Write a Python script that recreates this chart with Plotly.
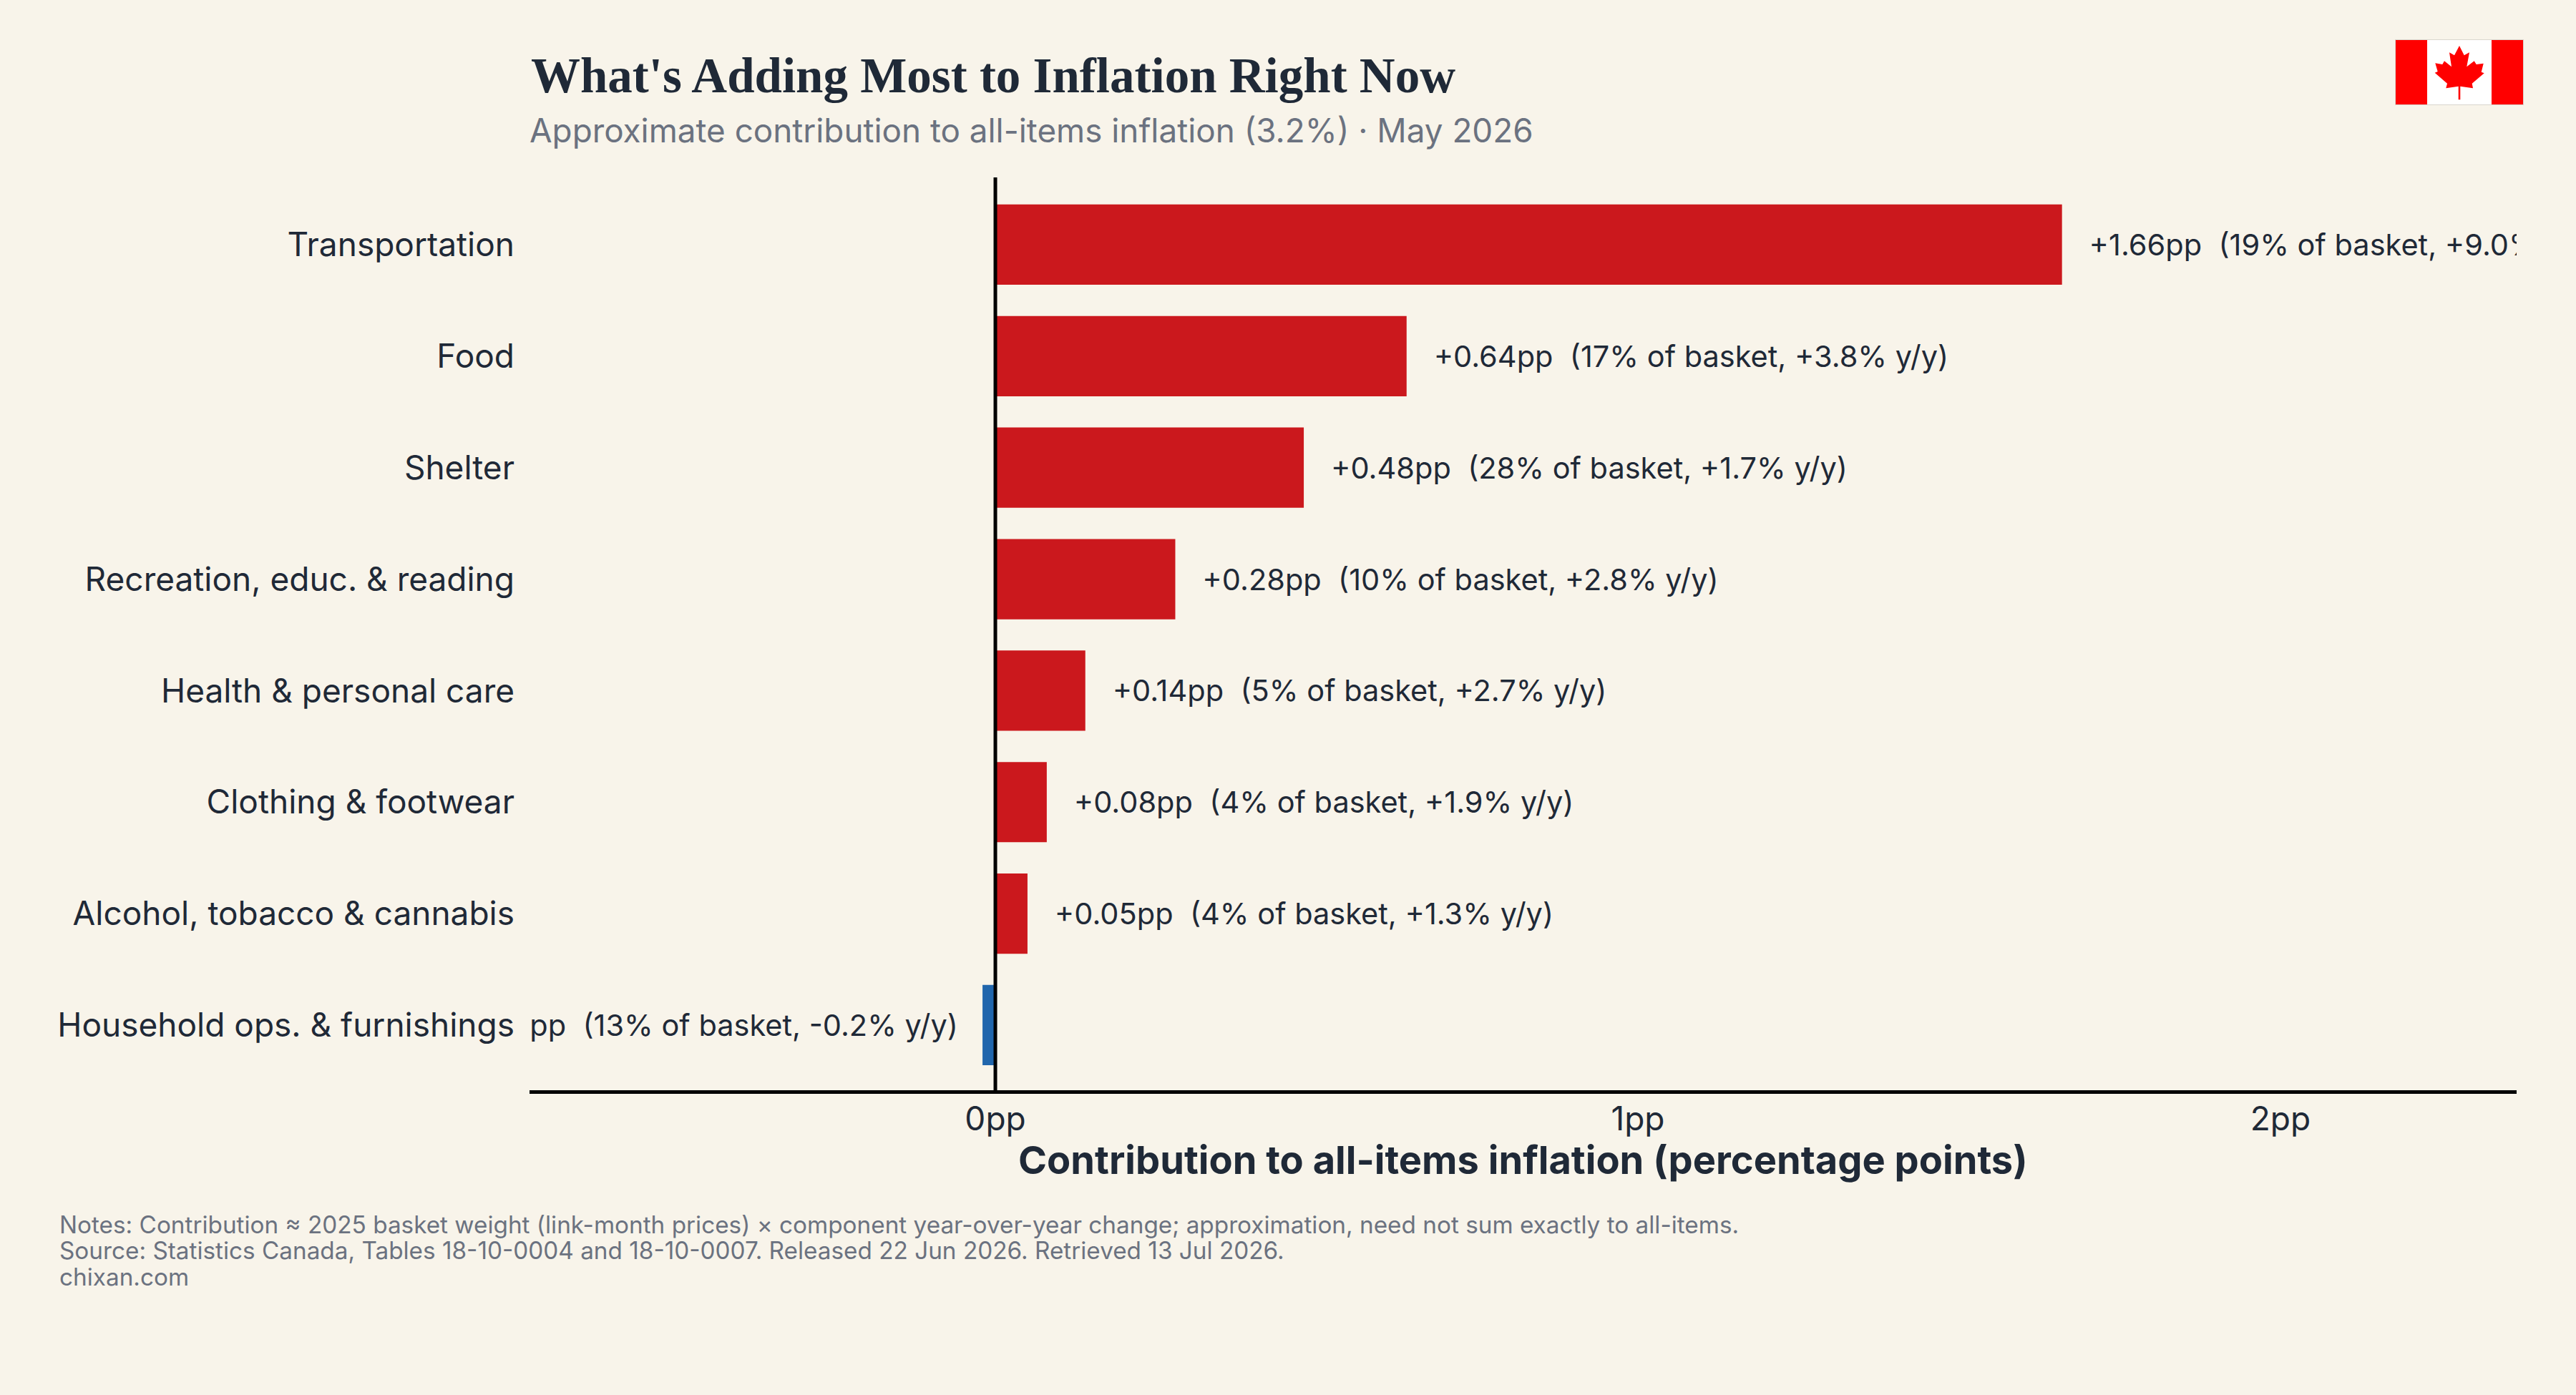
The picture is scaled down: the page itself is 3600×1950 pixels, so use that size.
import base64
import plotly.graph_objects as go

categories = [
    "Transportation", "Food", "Shelter", "Recreation, educ. & reading",
    "Health & personal care", "Clothing & footwear",
    "Alcohol, tobacco & cannabis", "Household ops. & furnishings",
]
contributions = [1.66, 0.64, 0.48, 0.28, 0.14, 0.08, 0.05, -0.02]
basket_shares = [19, 17, 28, 10, 5, 4, 4, 13]
yoy_changes = [9.0, 3.8, 1.7, 2.8, 2.7, 1.9, 1.3, -0.2]
tick_values = [0, 1, 2]
tick_labels = ["0pp", "1pp", "2pp"]
axis_title = "Contribution to all-items inflation (percentage points)"
footnotes = [
    "Notes: Contribution ≈ 2025 basket weight (link-month prices) × component year-over-year change; approximation, need not sum exactly to all-items.",
    "Source: Statistics Canada, Tables 18-10-0004 and 18-10-0007. Released 22 Jun 2026. Retrieved 13 Jul 2026.",
    "chixan.com",
]

W, H = 3600, 1950
L, R, T, B = 740, 3517, 248, 1524
BG, INK, MUTED = "#F8F4EA", "#1F2937", "#6B7280"
RED, BLUE = "#CB181D", "#2166AC"
PAD = "\u2002\u2005"


def px(x):
    return (x - L) / (R - L)


def py(y):
    return (B - y) / (B - T)


def label(v, share, yoy):
    body = f"{v:+.2f}pp\u00a0\u00a0({share}% of basket, {yoy:+.1f}% y/y)"
    return PAD + "\u200a" + body if v >= 0 else body + PAD


# Small flag badge for the top-right corner, drawn on a 180x92 grid.
LEAF_POINTS = (
    "90,9 96.7,22.3 104,18.3 100.3,38.3 110.7,30.3 113.7,35 123.7,33.7 120.7,45.7 124.7,47.3 "
    "107.7,61.7 109,68.3 91.3,65.7 91.3,84.3 88.7,84.3 88.7,65.7 71.3,68.3 73,61.7 55.7,46.7 "
    "59.7,45 56.3,33.3 66.3,35 69,30.3 79,38.3 76,18.3 83,22.3"
)
FLAG_SVG = (
    '<svg xmlns="http://www.w3.org/2000/svg" viewBox="0 0 180 92" width="180" height="92" preserveAspectRatio="none">'
    '<rect width="180" height="92" fill="#D9D6CE"/>'
    '<rect x="1" y="1" width="178" height="90" fill="#f00"/>'
    '<rect x="45" y="1" width="90" height="90" fill="#fff"/>'
    f'<polygon points="{LEAF_POINTS}" fill="#f00"/>'
    "</svg>"
)
flag_uri = "data:image/svg+xml;base64," + base64.b64encode(FLAG_SVG.encode()).decode()

fig = go.Figure(
    go.Bar(
        x=contributions,
        y=categories,
        orientation="h",
        width=0.72,
        marker=dict(color=[RED if v >= 0 else BLUE for v in contributions], line=dict(width=0)),
        text=[label(v, s, y) for v, s, y in zip(contributions, basket_shares, yoy_changes)],
        textposition="outside",
        constraintext="none",
        cliponaxis=True,
        textfont=dict(family="Inter", size=41.5, color=INK),
        hoverinfo="skip",
    )
)

annotations = [
    dict(text="<b>What's Adding Most to Inflation Right Now</b>", x=px(740), y=py(106), xanchor="left", yanchor="middle",
         font=dict(family="Liberation Serif", size=69, color=INK)),
    dict(text="Approximate contribution to all-items inflation (3.2%) · May 2026", x=px(738), y=py(182), xanchor="left",
         yanchor="middle", font=dict(family="Inter", size=45.8, color=MUTED)),
    dict(text=f"<b>{axis_title}</b>", x=0.5, y=py(1621), xanchor="center", yanchor="middle",
         font=dict(family="Inter", size=54.2, color=INK)),
]
for text, y in zip(footnotes, [1712, 1748, 1785]):
    annotations.append(dict(text=text, x=px(81), y=py(y), xanchor="left", yanchor="middle",
                            font=dict(family="Inter", size=33.3, color=MUTED)))
for a in annotations:
    a.update(xref="paper", yref="paper", showarrow=False, align="left")

fig.update_layout(
    width=W,
    height=H,
    margin=dict(l=L, r=W - R, t=T, b=H - B, pad=0),
    paper_bgcolor=BG,
    plot_bgcolor=BG,
    showlegend=False,
    annotations=annotations,
    images=[dict(source=flag_uri, xref="paper", yref="paper", x=px(3347), y=py(55), sizex=180 / (R - L), sizey=92 / (B - T),
                 xanchor="left", yanchor="top", sizing="stretch", layer="above")],
    # Zero baseline sits over the bars, so it is a shape rather than the axis zeroline.
    shapes=[dict(type="line", xref="x", yref="paper", x0=0, x1=0, y0=0, y1=1, layer="above",
                 line=dict(color="#000000", width=5))],
    xaxis=dict(
        range=[-0.725, 2.3675],
        tickvals=tick_values,
        ticktext=tick_labels,
        showgrid=False,
        ticks="",
        zeroline=False,
        showline=True,
        linecolor="#000000",
        linewidth=5,
        ticklabelstandoff=-4,
        tickfont=dict(family="Inter", size=46, color=INK),
    ),
    yaxis=dict(
        categoryorder="array",
        categoryarray=categories,
        range=[7.584, -0.603],
        showgrid=False,
        ticks="",
        zeroline=False,
        showline=False,
        ticklabelstandoff=20,
        tickfont=dict(family="Inter", size=46, color=INK),
    ),
)

fig.write_html("out.html")
